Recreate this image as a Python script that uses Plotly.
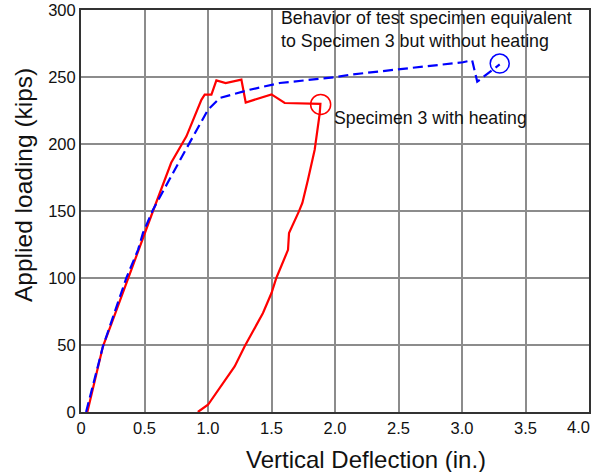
import plotly.graph_objects as go

# Specimen 3 with heating (red, solid)
heat_x = [0.05, 0.173, 0.24, 0.37, 0.51, 0.567, 0.71, 0.83, 0.948, 0.974, 1.027, 1.066, 1.139, 1.263,
          1.297, 1.50, 1.604, 1.885, 1.88, 1.84, 1.787, 1.743, 1.716, 1.638, 1.63, 1.538, 1.5, 1.433,
          1.289, 1.21, 1.0, 0.92]
heat_y = [0, 49, 66, 100, 136, 150, 186, 205.7, 233, 236.8, 236.8, 247.5, 245.5, 248,
          231, 237, 230.6, 230, 223, 195.7, 173.4, 156, 149.7, 133.6, 121, 100, 88.8, 73.9,
          49, 34, 5.4, 0]

# Equivalent specimen without heating (blue, dashed)
noheat_x = [0.04, 0.173, 0.357, 0.449, 0.488, 0.567, 0.803, 1.0, 1.092, 1.328, 1.565, 2.01, 2.116,
            3.008, 3.08, 3.12, 3.297]
noheat_y = [0, 49, 100, 121, 133.6, 151, 192, 225.6, 234.3, 240.5, 245.5, 250, 251.7,
            261, 262.5, 246.5, 259.5]

# End markers (circles)
heat_end = (1.887, 229.5)
noheat_end = (3.297, 260)

x_ticks = [0, 0.5, 1.0, 1.5, 2.0, 2.5, 3.0, 3.5, 4.0]
x_tick_text = ["0", "0.5", "1.0", "1.5", "2.0", "2.5", "3.0", "3.5", "4.0"]
y_ticks = [0, 50, 100, 150, 200, 250, 300]

FONT = "Arial, Liberation Sans, sans-serif"

fig = go.Figure()
fig.add_trace(go.Scatter(x=heat_x, y=heat_y, mode="lines",
                         line=dict(color="#ff0000", width=2.2), showlegend=False))
fig.add_trace(go.Scatter(x=noheat_x, y=noheat_y, mode="lines",
                         line=dict(color="#0000ff", width=2.2, dash="10px,5px"), showlegend=False))
fig.add_trace(go.Scatter(x=[heat_end[0]], y=[heat_end[1]], mode="markers",
                         marker=dict(symbol="circle-open", size=20, color="#ff0000",
                                     line=dict(width=1.5, color="#ff0000")), showlegend=False))
fig.add_trace(go.Scatter(x=[noheat_end[0]], y=[noheat_end[1]], mode="markers",
                         marker=dict(symbol="circle-open", size=19, color="#0000ff",
                                     line=dict(width=1.5, color="#0000ff")), showlegend=False))

fig.add_annotation(x=1.557, y=285.3, xref="x", yref="y", xanchor="left", yanchor="middle",
                   text="Behavior of test specimen equivalent<br>to Specimen 3 but without heating",
                   showarrow=False, align="left", font=dict(family=FONT, size=17.8, color="#111"))
fig.add_annotation(x=1.98, y=219.4, xref="x", yref="y", xanchor="left", yanchor="middle",
                   text="Specimen 3 with heating",
                   showarrow=False, align="left", font=dict(family=FONT, size=17.7, color="#111"))

# Last x tick label, right-aligned at the axis end so it stays inside the page
fig.add_annotation(x=x_ticks[-1], y=0, xref="x", yref="paper", xanchor="right", yanchor="top",
                   xshift=3, yshift=-4, text=x_tick_text[-1], showarrow=False,
                   font=dict(family=FONT, size=16.5, color="#111"))

# Axis titles
fig.add_annotation(x=0.562, y=-0.117, xref="paper", yref="paper", xanchor="center", yanchor="middle",
                   text="Vertical Deflection (in.)", showarrow=False,
                   font=dict(family=FONT, size=24, color="#111"))
fig.add_annotation(x=-0.112, y=0.565, xref="paper", yref="paper", xanchor="center", yanchor="middle",
                   text="Applied loading (kips)", showarrow=False, textangle=-90,
                   font=dict(family=FONT, size=24.5, color="#111"))

fig.update_layout(
    width=597, height=472,
    margin=dict(l=81, r=8, t=10, b=60),
    plot_bgcolor="white", paper_bgcolor="white",
    font=dict(family=FONT, size=16.5, color="#111"),
    xaxis=dict(range=[0, 4], tickvals=x_ticks, ticktext=x_tick_text[:-1] + [""],
               showgrid=True, gridcolor="#8c8c8c", gridwidth=1.5,
               showline=True, linecolor="#333", linewidth=2, mirror=True,
               ticks="", zeroline=False, automargin=False),
    yaxis=dict(range=[0, 300], tickvals=y_ticks,
               showgrid=True, gridcolor="#8c8c8c", gridwidth=1.5,
               showline=True, linecolor="#333", linewidth=2, mirror=True,
               ticks="", zeroline=False, automargin=False),
)

fig.write_html("out.html")
